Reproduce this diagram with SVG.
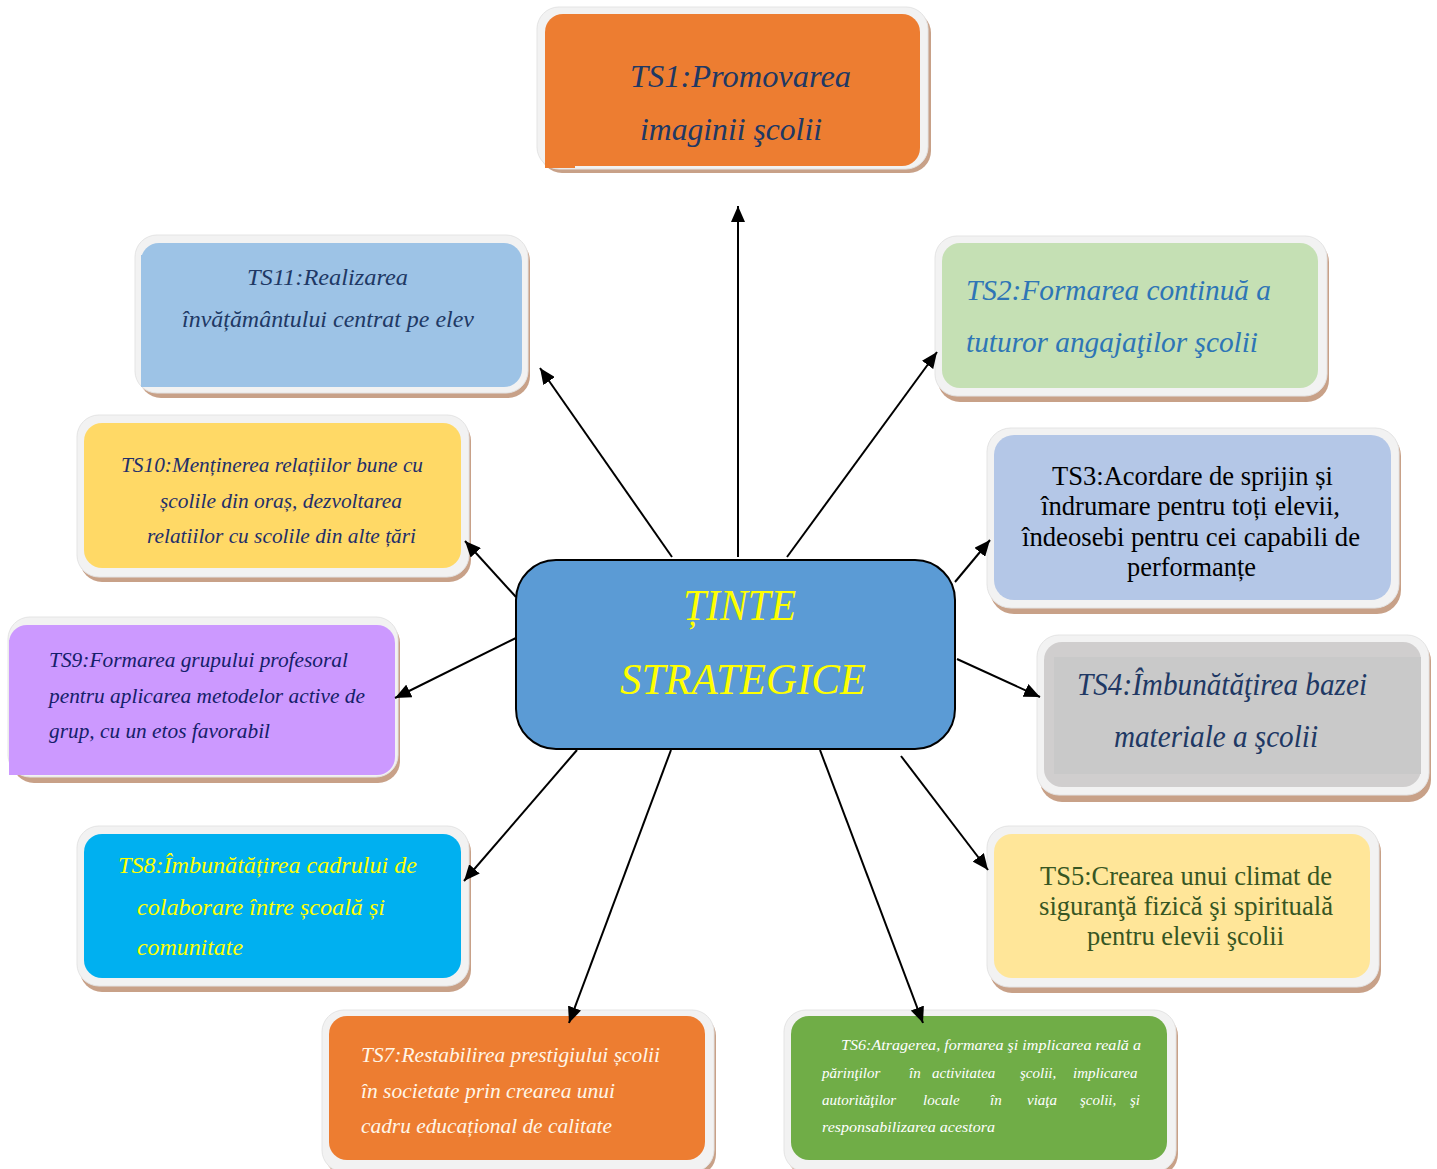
<svg xmlns="http://www.w3.org/2000/svg" width="1437" height="1169" viewBox="0 0 1437 1169">
<defs>
<style>
.sh{fill:#C8A188}
.fr{fill:#F2F2F2;stroke:#E4E4E4;stroke-width:1}
.t{font-family:"Liberation Serif","Times New Roman",serif;font-style:italic}
.r{font-family:"Liberation Serif","Times New Roman",serif}
.conn line{stroke:#000;stroke-width:2;marker-end:url(#ah)}
</style>
<marker id="ah" markerUnits="userSpaceOnUse" markerWidth="18" markerHeight="14" refX="16" refY="7" orient="auto">
<path d="M0,0 L16,7 L0,14 Z" fill="#000"/>
</marker>
</defs>
<rect width="1437" height="1169" fill="#fff"/>

<g id="center">
<rect x="516" y="560" width="439" height="189" rx="40" fill="#5B9BD5" stroke="#000" stroke-width="2"/>
<text class="t" x="683" y="620" font-size="45" fill="#FFFF00" textLength="113" lengthAdjust="spacingAndGlyphs">ȚINTE</text>
<text class="t" x="620" y="694" font-size="45" fill="#FFFF00" textLength="246" lengthAdjust="spacingAndGlyphs">STRATEGICE</text>
</g>

<g id="ts1">
<rect class="sh" x="540" y="11" width="391" height="162" rx="22"/>
<rect class="fr" x="537" y="7" width="391" height="162" rx="22"/>
<rect x="545" y="14" width="375" height="152" rx="18" fill="#ED7D31"/>
<rect x="545" y="140" width="30" height="28" fill="#ED7D31"/>
<text class="t" x="630" y="87" font-size="32" fill="#203864" textLength="221" lengthAdjust="spacingAndGlyphs">TS1:Promovarea</text>
<text class="t" x="640" y="140" font-size="32" fill="#203864" textLength="182" lengthAdjust="spacingAndGlyphs">imaginii şcolii</text>
</g>

<g id="ts11">
<rect class="sh" x="139" y="239" width="391" height="159" rx="22"/>
<rect class="fr" x="135" y="235" width="393" height="158" rx="22"/>
<rect x="141" y="243" width="381" height="144" rx="18" fill="#9DC3E6"/>
<rect x="141" y="255" width="20" height="132" fill="#9DC3E6"/>
<text class="t" x="247" y="285" font-size="24" fill="#203864" textLength="161" lengthAdjust="spacingAndGlyphs">TS11:Realizarea</text>
<text class="t" x="182" y="327" font-size="24" fill="#203864" textLength="292" lengthAdjust="spacingAndGlyphs">învățământului centrat pe elev</text>
</g>

<g id="ts10">
<rect class="sh" x="80" y="419" width="391" height="163" rx="22"/>
<rect class="fr" x="77" y="415" width="392" height="162" rx="22"/>
<rect x="84" y="423" width="377" height="145" rx="18" fill="#FFD966"/>
<text class="t" x="121" y="472" font-size="21.5" fill="#1F2F6A" textLength="302" lengthAdjust="spacingAndGlyphs">TS10:Menținerea relațiilor bune cu</text>
<text class="t" x="160" y="508" font-size="21.5" fill="#1F2F6A" textLength="242" lengthAdjust="spacingAndGlyphs">școlile din oraș, dezvoltarea</text>
<text class="t" x="147" y="543" font-size="21.5" fill="#1F2F6A" textLength="269" lengthAdjust="spacingAndGlyphs">relatiilor cu scolile din alte țări</text>
</g>

<g id="ts9">
<rect class="sh" x="12" y="621" width="388" height="162" rx="22"/>
<rect class="fr" x="8" y="617" width="390" height="160" rx="22"/>
<rect x="9" y="625" width="386" height="150" rx="18" fill="#CC99FF"/>
<rect x="9" y="640" width="20" height="135" fill="#CC99FF"/>
<text class="t" x="49" y="667" font-size="21.5" fill="#14206A" textLength="299" lengthAdjust="spacingAndGlyphs">TS9:Formarea grupului profesoral</text>
<text class="t" x="49" y="703" font-size="21.5" fill="#14206A" textLength="316" lengthAdjust="spacingAndGlyphs">pentru aplicarea metodelor active de</text>
<text class="t" x="49" y="738" font-size="21.5" fill="#14206A" textLength="221" lengthAdjust="spacingAndGlyphs">grup, cu un etos favorabil</text>
</g>

<g id="ts8">
<rect class="sh" x="80" y="830" width="391" height="162" rx="22"/>
<rect class="fr" x="77" y="826" width="392" height="160" rx="22"/>
<rect x="84" y="834" width="377" height="144" rx="18" fill="#00B0F0"/>
<text class="t" x="118" y="873" font-size="24" fill="#FFFF00" textLength="299" lengthAdjust="spacingAndGlyphs">TS8:Îmbunătățirea cadrului de</text>
<text class="t" x="137" y="915" font-size="24" fill="#FFFF00" textLength="248" lengthAdjust="spacingAndGlyphs">colaborare între școală și</text>
<text class="t" x="137" y="955" font-size="24" fill="#FFFF00" textLength="106" lengthAdjust="spacingAndGlyphs">comunitate</text>
</g>

<g id="ts7">
<rect class="sh" x="325" y="1014" width="391" height="162" rx="22"/>
<rect class="fr" x="322" y="1010" width="392" height="162" rx="22"/>
<rect x="329" y="1016" width="376" height="144" rx="18" fill="#ED7D31"/>
<text class="t" x="361" y="1062" font-size="22" fill="#FFF6E8" textLength="299" lengthAdjust="spacingAndGlyphs">TS7:Restabilirea prestigiului școlii</text>
<text class="t" x="361" y="1098" font-size="22" fill="#FFF6E8" textLength="254" lengthAdjust="spacingAndGlyphs">în societate prin crearea unui</text>
<text class="t" x="361" y="1133" font-size="22" fill="#FFF6E8" textLength="251" lengthAdjust="spacingAndGlyphs">cadru educațional de calitate</text>
</g>

<g id="ts6">
<rect class="sh" x="787" y="1014" width="391" height="162" rx="22"/>
<rect class="fr" x="784" y="1010" width="392" height="162" rx="22"/>
<rect x="791" y="1016" width="376" height="144" rx="18" fill="#70AD47"/>
<text class="t" x="841" y="1050" font-size="15" fill="#FFFFFF" textLength="300" lengthAdjust="spacingAndGlyphs">TS6:Atragerea, formarea şi implicarea reală a</text>
<text class="t" font-size="15" fill="#FFFFFF" y="1078"><tspan x="822">părinţilor</tspan><tspan x="909">în</tspan><tspan x="932">activitatea</tspan><tspan x="1020">şcolii,</tspan><tspan x="1073">implicarea</tspan></text>
<text class="t" font-size="15" fill="#FFFFFF" y="1105"><tspan x="822">autorităţilor</tspan><tspan x="923">locale</tspan><tspan x="990">în</tspan><tspan x="1027">viaţa</tspan><tspan x="1080">şcolii,</tspan><tspan x="1130">şi</tspan></text>
<text class="t" font-size="15" fill="#FFFFFF" x="822" y="1132" textLength="173" lengthAdjust="spacingAndGlyphs">responsabilizarea acestora</text>
</g>

<g id="ts2">
<rect class="sh" x="938" y="240" width="391" height="162" rx="22"/>
<rect class="fr" x="935" y="236" width="392" height="160" rx="22"/>
<rect x="942" y="243" width="376" height="145" rx="18" fill="#C5E0B4"/>
<text class="t" x="966" y="300" font-size="29" fill="#2E75B6" textLength="305" lengthAdjust="spacingAndGlyphs">TS2:Formarea continuă a</text>
<text class="t" x="966" y="352" font-size="29" fill="#2E75B6" textLength="292" lengthAdjust="spacingAndGlyphs">tuturor angajaţilor şcolii</text>
</g>

<g id="ts3">
<rect class="sh" x="990" y="432" width="411" height="182" rx="24"/>
<rect class="fr" x="987" y="428" width="412" height="180" rx="24"/>
<rect x="994" y="435" width="397" height="165" rx="20" fill="#B4C7E7"/>
<text class="r" font-size="26.5" fill="#000">
<tspan x="1052" y="485" textLength="281" lengthAdjust="spacingAndGlyphs">TS3:Acordare de sprijin și</tspan>
<tspan x="1041" y="515" textLength="299" lengthAdjust="spacingAndGlyphs">îndrumare pentru toți elevii,</tspan>
<tspan x="1022" y="546" textLength="338" lengthAdjust="spacingAndGlyphs">îndeosebi pentru cei capabili de</tspan>
<tspan x="1127" y="576" textLength="129" lengthAdjust="spacingAndGlyphs">performanțe</tspan>
</text>
</g>

<g id="ts4">
<rect class="sh" x="1040" y="639" width="391" height="163" rx="22"/>
<rect class="fr" x="1037" y="635" width="392" height="160" rx="22"/>
<rect x="1044" y="642" width="377" height="145" rx="18" fill="#D0CECE"/>
<rect x="1054" y="657" width="367" height="117" fill="#C9C9C9"/>
<text class="t" x="1077" y="695" font-size="31" fill="#203864" textLength="290" lengthAdjust="spacingAndGlyphs">TS4:Îmbunătăţirea bazei</text>
<text class="t" x="1114" y="747" font-size="31" fill="#203864" textLength="204" lengthAdjust="spacingAndGlyphs">materiale a şcolii</text>
</g>

<g id="ts5">
<rect class="sh" x="990" y="830" width="391" height="163" rx="22"/>
<rect class="fr" x="987" y="826" width="392" height="161" rx="22"/>
<rect x="994" y="834" width="376" height="144" rx="18" fill="#FFE699"/>
<text class="r" font-size="26.5" fill="#375623">
<tspan x="1040" y="885" textLength="292" lengthAdjust="spacingAndGlyphs">TS5:Crearea unui climat de</tspan>
<tspan x="1039" y="915" textLength="294" lengthAdjust="spacingAndGlyphs">siguranţă fizică şi spirituală</tspan>
<tspan x="1087" y="945" textLength="197" lengthAdjust="spacingAndGlyphs">pentru elevii şcolii</tspan>
</text>
</g>

<g class="conn" id="connectors">
<line x1="738" y1="557" x2="738" y2="206"/>
<line x1="787" y1="557" x2="937" y2="352"/>
<line x1="955" y1="582" x2="990" y2="540"/>
<line x1="957" y1="659" x2="1040" y2="697"/>
<line x1="901" y1="756" x2="988" y2="870"/>
<line x1="820" y1="750" x2="923" y2="1023"/>
<line x1="671" y1="750" x2="569" y2="1023"/>
<line x1="577" y1="750" x2="464" y2="881"/>
<line x1="516" y1="638" x2="395" y2="698"/>
<line x1="516" y1="597" x2="465" y2="541"/>
<line x1="672" y1="557" x2="540" y2="368"/>
</g>
</svg>
